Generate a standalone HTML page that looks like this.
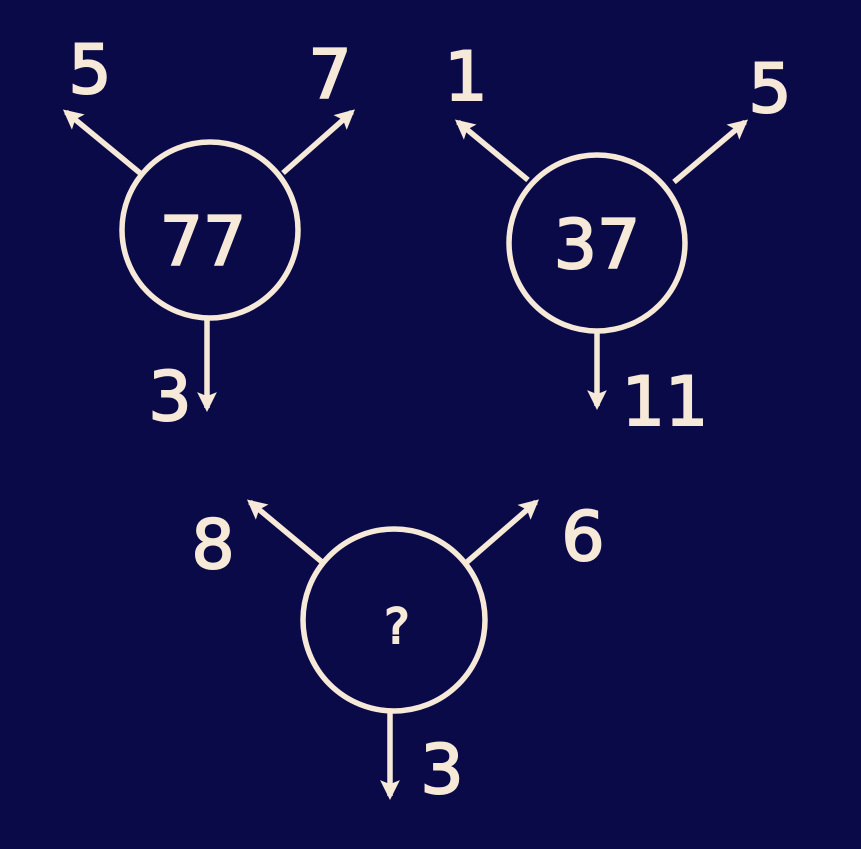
<!DOCTYPE html>
<html><head><style>
html,body{margin:0;padding:0;background:#0a0a48;}
svg{display:block}
text{font-family:"DejaVu Sans","Liberation Sans",sans-serif;fill:#f6e9d8;stroke:#f6e9d8;stroke-width:2;}
</style></head><body>
<svg width="861" height="849" viewBox="0 0 861 849" xmlns="http://www.w3.org/2000/svg">
<defs>
<marker id="a" viewBox="0 0 10 10" refX="8" refY="5" markerWidth="3.6" markerHeight="3.6" orient="auto">
<path d="M0,0 L10,5 L0,10 L2,5 z" fill="#f6e9d8"/></marker>
</defs>
<rect width="861" height="849" fill="#0a0a48"/>
<g stroke="#f6e9d8" stroke-width="5.5" fill="none">
<circle cx="210" cy="230" r="88"/>
<circle cx="597" cy="243" r="88"/>
<circle cx="394" cy="620" r="91"/>
<g marker-end="url(#a)">
<line x1="140" y1="173" x2="66" y2="112"/>
<line x1="283" y1="173" x2="352" y2="112"/>
<line x1="207" y1="318" x2="207" y2="408"/>
<line x1="528" y1="180" x2="458" y2="122"/>
<line x1="674" y1="182" x2="745" y2="122"/>
<line x1="597" y1="331" x2="597" y2="406"/>
<line x1="322" y1="562" x2="250" y2="502"/>
<line x1="467" y1="562" x2="536" y2="502"/>
<line x1="390" y1="711" x2="390" y2="796"/>
</g></g>
<g font-size="68" text-anchor="middle">
<text x="90" y="93">5</text>
<text x="330" y="98">7</text>
<text x="203" y="265">77</text>
<text x="170" y="420">3</text>
<text x="466" y="100">1</text>
<text x="770" y="112">5</text>
<text x="597" y="268">37</text>
<text x="665" y="425">11</text>
<text x="213" y="568">8</text>
<text x="583" y="560">6</text>
<text x="397" y="643" font-size="48">?</text>
<text x="442" y="793">3</text>
</g>
</svg>
</body></html>
